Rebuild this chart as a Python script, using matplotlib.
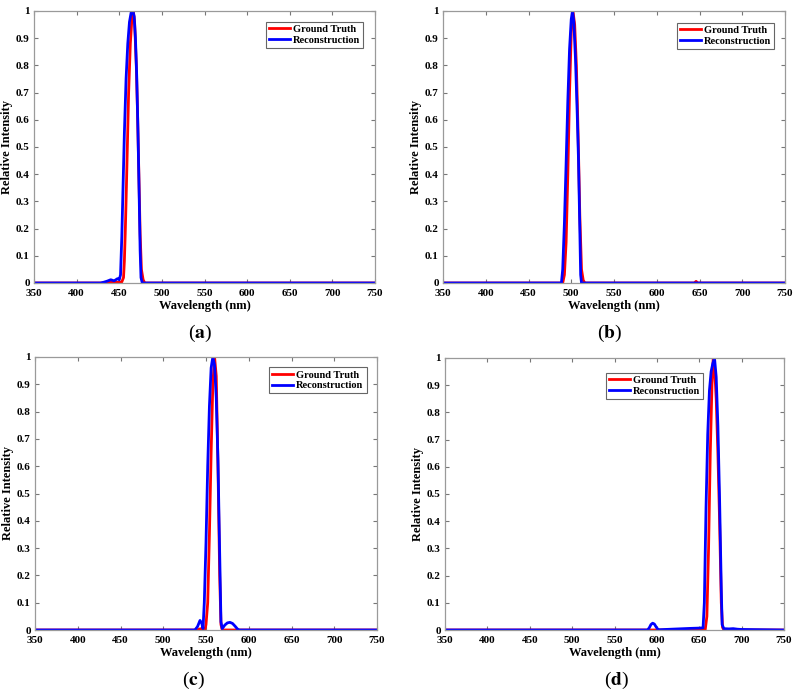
import matplotlib
matplotlib.use("Agg")
import matplotlib.pyplot as plt

# ---------------- data ----------------
# Panel (a)
a_gt_x = [350, 430, 436, 441, 446, 450, 453, 455, 456, 457, 458, 459.5, 461, 463, 465, 466.5, 468, 470, 471.5, 473, 474.5, 476, 478, 480, 750]
a_gt_y = [0, 0, 0.003, 0.005, 0.003, 0.002, 0.004, 0.02, 0.08, 0.18, 0.30, 0.50, 0.70, 0.88, 0.98, 1.0, 0.96, 0.80, 0.62, 0.40, 0.18, 0.05, 0.012, 0, 0]
a_rc_x = [350, 428, 432, 436, 440, 444, 446, 448, 450, 451.5, 453, 454.5, 456, 458, 460, 462, 464, 466, 467.5, 469, 470.5, 472, 473.5, 474.5, 475.5, 477, 750]
a_rc_y = [0, 0, 0.003, 0.007, 0.012, 0.008, 0.012, 0.016, 0.012, 0.03, 0.17, 0.36, 0.55, 0.75, 0.88, 0.96, 0.995, 1.0, 0.98, 0.90, 0.76, 0.55, 0.30, 0.12, 0.02, 0, 0]

# Panel (b)
b_gt_x = [350, 490, 492, 494, 496, 498, 500, 502, 504, 506, 508, 510, 512, 514, 516, 644, 646, 648, 750]
b_gt_y = [0, 0, 0.03, 0.15, 0.40, 0.70, 0.92, 1.0, 0.95, 0.80, 0.55, 0.25, 0.05, 0.01, 0, 0, 0.006, 0, 0]
b_rc_x = [350, 488.5, 490, 492, 494, 496, 498, 500, 501.5, 503, 505, 507, 508.5, 510, 511, 512, 750]
b_rc_y = [0, 0, 0.05, 0.22, 0.44, 0.67, 0.86, 0.97, 1.0, 0.96, 0.82, 0.62, 0.45, 0.20, 0.03, 0, 0]

# Panel (c)
c_gt_x = [350, 540, 543, 545, 547, 549, 550, 552, 554, 556, 558, 560, 562, 564, 566, 567.5, 569, 750]
c_gt_y = [0, 0, 0.004, 0.005, 0.003, 0.004, 0.02, 0.10, 0.35, 0.65, 0.90, 1.0, 0.93, 0.60, 0.20, 0.02, 0, 0]
c_rc_x = [350, 537, 540, 543, 545, 546.5, 548, 550, 552, 554, 556, 558, 560, 562, 564, 566, 567.5, 569, 572, 575, 578, 581, 584, 587, 589, 750]
c_rc_y = [0, 0, 0.012, 0.035, 0.025, 0.005, 0.10, 0.32, 0.60, 0.82, 0.96, 1.0, 0.97, 0.85, 0.62, 0.28, 0.03, 0.005, 0.018, 0.026, 0.028, 0.024, 0.014, 0.003, 0, 0]

# Panel (d)
d_gt_x = [350, 657, 659, 661, 663, 665, 666.5, 668, 670, 672, 674, 676, 677.5, 679, 750]
d_gt_y = [0, 0, 0.05, 0.30, 0.65, 0.90, 1.0, 0.97, 0.85, 0.65, 0.40, 0.10, 0.01, 0, 0]
d_rc_x = [350, 589, 591, 593, 595, 597, 599, 601, 603, 610, 625, 640, 650, 654.5, 656, 658, 660, 662, 664, 666, 668, 670, 672, 674, 676, 677, 679, 685, 690, 695, 700, 750]
d_rc_y = [0, 0, 0.008, 0.02, 0.025, 0.022, 0.012, 0.003, 0.001, 0.002, 0.004, 0.006, 0.007, 0.008, 0.10, 0.45, 0.72, 0.88, 0.95, 0.98, 1.0, 0.93, 0.75, 0.48, 0.15, 0.02, 0.005, 0.004, 0.005, 0.003, 0.002, 0]

panel_labels = ["a", "b", "c", "d"]
series_names = ["Ground Truth", "Reconstruction"]
x_ticks = [350, 400, 450, 500, 550, 600, 650, 700, 750]
y_ticks = [0, 0.1, 0.2, 0.3, 0.4, 0.5, 0.6, 0.7, 0.8, 0.9, 1]
y_tick_labels = ["0", "0.1", "0.2", "0.3", "0.4", "0.5", "0.6", "0.7", "0.8", "0.9", "1"]

panels = [
    (a_gt_x, a_gt_y, a_rc_x, a_rc_y),
    (b_gt_x, b_gt_y, b_rc_x, b_rc_y),
    (c_gt_x, c_gt_y, c_rc_x, c_rc_y),
    (d_gt_x, d_gt_y, d_rc_x, d_rc_y),
]

# ---------------- style / layout ----------------
plt.rcParams["font.family"] = ["Liberation Serif", "DejaVu Serif"]
plt.rcParams["mathtext.fontset"] = "stix"

W, H = 797, 693
fig = plt.figure(figsize=(W / 100, H / 100), dpi=100)

# axes boxes in pixels: left, top, right, bottom
boxes = [(34, 11, 375, 283), (443, 11, 785, 283), (35, 357, 377, 630), (445, 358, 784, 630)]
legend_anchor = [(0.965, 0.961), (0.969, 0.957), (0.970, 0.963), (0.762, 0.946)]
label_pos = [(200, 333), (610, 333), (193, 680), (617, 680)]

spine_col = "#9a9a9a"

for i, (gx, gy, rx, ry) in enumerate(panels):
    l, t, r, b = boxes[i]
    ax = fig.add_axes([l / W, 1 - b / H, (r - l) / W, (b - t) / H])
    ax.plot(gx, gy, color="#ff0000", lw=2.0, label=series_names[0])
    ax.plot(rx, ry, color="#0000ff", lw=2.0, label=series_names[1])
    ax.set_xlim(350, 750)
    ax.set_ylim(0, 1)
    ax.set_xticks(x_ticks)
    ax.set_xticklabels([str(v) for v in x_ticks])
    ax.set_yticks(y_ticks)
    ax.set_yticklabels(y_tick_labels)
    ax.tick_params(direction="in", top=True, right=True, length=3, width=0.8,
                   color="#777777", labelsize=8)
    ax.tick_params(axis="x", pad=4)
    ax.tick_params(axis="y", pad=3)
    for lab in ax.get_xticklabels() + ax.get_yticklabels():
        lab.set_fontweight("bold")
    for s in ax.spines.values():
        s.set_color(spine_col)
        s.set_linewidth(0.9)
    ax.set_xlabel("Wavelength (nm)", fontsize=9, fontweight="bold", labelpad=2)
    ax.set_ylabel("Relative Intensity", fontsize=9, fontweight="bold", labelpad=2)
    leg = ax.legend(loc="upper right", bbox_to_anchor=legend_anchor[i], borderaxespad=0,
                    fancybox=False, framealpha=1, edgecolor="#666666",
                    prop={"family": ["Liberation Serif"], "weight": "bold", "size": 7.5},
                    handlelength=2.0, handletextpad=0.3, borderpad=0.3, labelspacing=0.15)
    leg.get_frame().set_linewidth(0.8)
    px, py = label_pos[i]
    fig.text(px / W, 1 - py / H, "(" + r"$\mathbf{" + panel_labels[i] + "}$" + ")",
             ha="center", va="center", fontsize=14)

fig.savefig("out.png", dpi=100)
